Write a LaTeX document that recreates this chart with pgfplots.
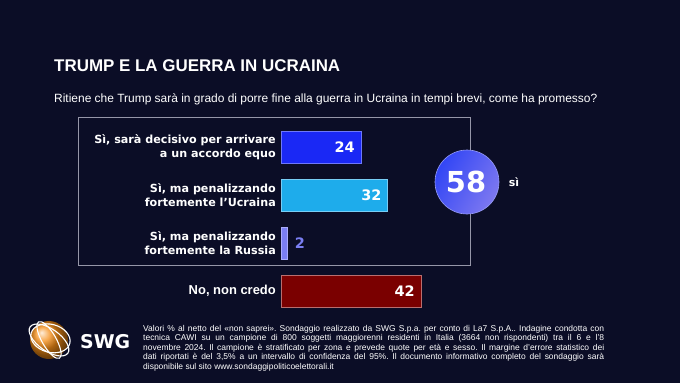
\documentclass[border=0pt]{standalone}
\usepackage{fontspec}
\setmainfont{DejaVu Sans}
\newfontfamily\arialf{Liberation Sans}
\usepackage{pgfplots}
\pgfplotsset{compat=1.18}
\frenchspacing
\definecolor{bg}{RGB}{11,13,38}
\definecolor{boxgray}{RGB}{150,150,168}
\definecolor{bA}{RGB}{26,40,245}
\definecolor{bAe}{RGB}{110,120,250}
\definecolor{bB}{RGB}{30,172,235}
\definecolor{bBe}{RGB}{120,205,245}
\definecolor{bC}{RGB}{122,126,242}
\definecolor{bCe}{RGB}{170,172,250}
\definecolor{bD}{RGB}{122,0,0}
\definecolor{bDe}{RGB}{185,110,110}
\definecolor{cirA}{RGB}{50,70,245}
\definecolor{cirB}{RGB}{125,120,240}
\definecolor{swgor}{RGB}{245,140,20}
\begin{document}
\begin{tikzpicture}[x=1bp,y=1bp]
\fill[bg] (0,0) rectangle (680,-383);
\coordinate (axpos) at (281,-123);
% title
\node[anchor=base west, text=white, inner sep=0pt, font=\arialf\bfseries\fontsize{17}{20}\selectfont] at (54,-71) {TRUMP E LA GUERRA IN UCRAINA};
\node[anchor=base west, text=white, inner sep=0pt, font=\arialf\fontsize{12}{14}\selectfont] at (54,-102) {Ritiene che Trump sarà in grado di porre fine alla guerra in Ucraina in tempi brevi, come ha promesso?};
% box
\draw[boxgray, line width=0.9bp] (78,-117) rectangle (470,-265);
\begin{axis}[
  at={(axpos)}, anchor=north west,
  x=3.3333bp, y=48bp, y dir=reverse,
  xmin=0, xmax=60, ymin=-0.5, ymax=3.5,
  enlargelimits=false, clip=false,
  xbar, bar width=32bp, bar shift=0pt,
  axis line style={draw=none}, major tick style={draw=none}, major tick length=0pt,
  xtick=\empty,
  ytick={0,1,2,3},
  yticklabels={{Sì, sarà decisivo per arrivare\\a un accordo equo},{Sì, ma penalizzando\\fortemente l’Ucraina},{Sì, ma penalizzando\\fortemente la Russia},{\arialf\bfseries\fontsize{13}{15}\selectfont No, non credo}},
  yticklabel style={align=right, font=\bfseries\fontsize{11.2}{13.8}\selectfont, text=white, inner sep=0pt, xshift=-5bp},
  point meta=x,
  /pgf/number format/assume math mode=true,
  nodes near coords,
  every node near coord/.append style={font=\bfseries\fontsize{14.5}{16}\selectfont, inner sep=0pt},
]
\addplot[fill=bA, draw=bAe, line width=0.6bp, every node near coord/.append style={anchor=east, xshift=-6bp, text=white}] coordinates {(24,0)};
\addplot[fill=bB, draw=bBe, line width=0.6bp, every node near coord/.append style={anchor=east, xshift=-6bp, text=white}] coordinates {(32,1)};
\addplot[fill=bC, draw=bCe, line width=0.6bp, every node near coord/.append style={anchor=west, xshift=7bp, text=bC}] coordinates {(2,2)};
\addplot[fill=bD, draw=bDe, line width=0.6bp, every node near coord/.append style={anchor=east, xshift=-6bp, text=white}] coordinates {(42,3)};
\end{axis}
% total circle
\shade[left color=cirA, right color=cirB, shading angle=60] (467,-182) circle (32);
\draw[color={rgb,255:red,150;green,155;blue,245}, line width=0.6bp] (467,-182) circle (32);
\node[text=white, font=\bfseries\fontsize{29}{32}\selectfont, inner sep=0pt] at (466,-182) {58};
\node[text=white, font=\bfseries\fontsize{11}{13}\selectfont, inner sep=0pt] at (514,-182) {sì};
% logo
\shade[ball color=swgor] (49,-340) circle (19);
\begin{scope}[white, line width=1.1bp]
\draw[rotate around={-35:(49,-340)}] (49,-340) ellipse (23 and 11);
\draw[rotate around={-60:(49,-340)}] (49,-340) ellipse (21 and 7);
\draw[rotate around={-15:(49,-340)}] (50,-338) ellipse (20 and 14);
\end{scope}
\node[anchor=west, text=white, inner sep=0pt, font=\bfseries\fontsize{19}{21}\selectfont] at (80,-342) {SWG};
% footnote
\begin{scope}[every node/.style={anchor=base west, text=white, inner sep=0pt, font=\arialf\fontsize{8.5}{9.5}\selectfont}]
\node at (143,-331) {\makebox[461bp][s]{Valori \% al netto del «non saprei». Sondaggio realizzato da SWG S.p.a. per conto di La7 S.p.A.. Indagine condotta con}};
\node at (143,-340.5) {\makebox[461bp][s]{tecnica CAWI su un campione di 800 soggetti maggiorenni residenti in Italia (3664 non rispondenti) tra il 6 e l’8}};
\node at (143,-350) {\makebox[461bp][s]{novembre 2024. Il campione è stratificato per zona e prevede quote per età e sesso. Il margine d’errore statistico dei}};
\node at (143,-359.5) {\makebox[461bp][s]{dati riportati è del 3,5\% a un intervallo di confidenza del 95\%. Il documento informativo completo del sondaggio sarà}};
\node at (143,-369) {disponibile sul sito www.sondaggipoliticoelettorali.it};
\end{scope}
\end{tikzpicture}
\end{document}
